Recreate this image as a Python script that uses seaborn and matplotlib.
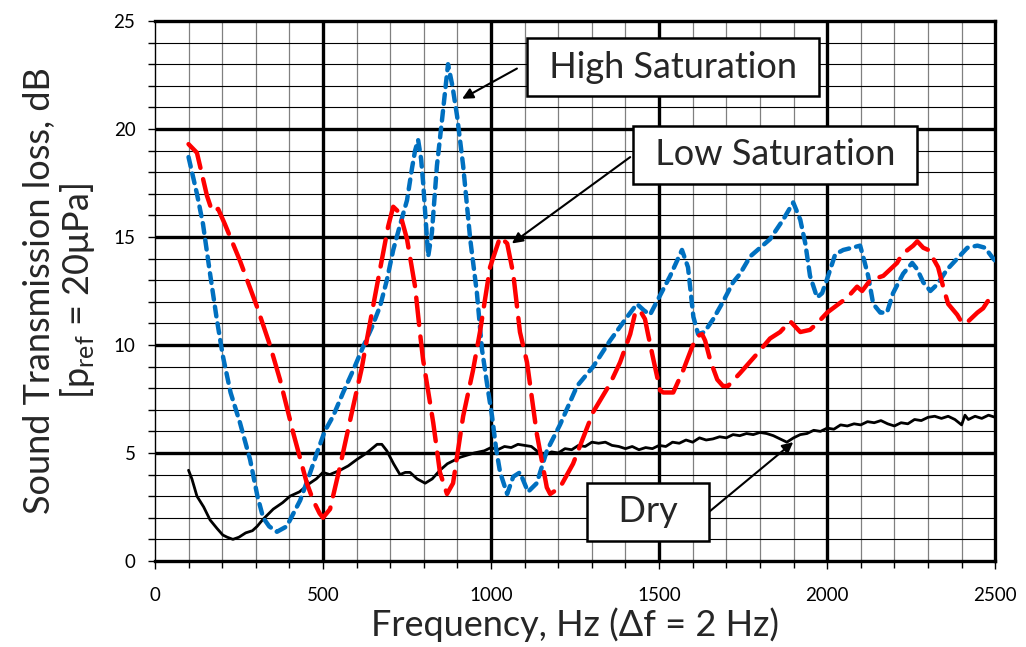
import matplotlib
matplotlib.use("Agg")
import matplotlib.pyplot as plt
import seaborn as sns
import pandas as pd

# ---- data ----
dry_x = [100,110,125,145,164,185,202,215,232,250,270,290,304,320,352,380,402,430,461,480,500,520,551,575,601,630,661,675,690,710,729,745,759,780,804,825,848,870,908,950,980,
         1000,1020,1040,1060,1080,1100,1120,1140,1160,1180,1200,1220,1240,1260,1280,1300,1320,1340,1360,1380,1400,1420,1440,1460,1480,1500,1520,1540,1560,1580,1600,1620,1640,1660,1680,1700,1720,1740,1760,1780,1800,1820,1840,1860,1880,1900,1920,1940,1960,1980,2000,2020,2040,2060,2080,2100,2120,2140,2160,2180,2200,2220,2240,2260,2280,2300,2320,2340,2360,2380,2400,2410,2420,2440,2460,2480,2500]
dry_y = [4.2,3.8,3.0,2.5,1.9,1.5,1.2,1.1,1.0,1.1,1.3,1.4,1.6,1.9,2.4,2.7,3.0,3.2,3.6,3.8,4.1,4.0,4.2,4.4,4.7,5.0,5.4,5.4,5.1,4.5,4.0,4.1,4.1,3.8,3.6,3.8,4.2,4.5,4.8,5.0,5.1,
         5.25,5.15,5.3,5.25,5.4,5.35,5.3,5.05,4.9,5.05,5.0,5.2,5.15,5.35,5.3,5.5,5.45,5.5,5.35,5.3,5.2,5.3,5.15,5.25,5.2,5.35,5.3,5.5,5.45,5.6,5.5,5.7,5.6,5.65,5.75,5.7,5.85,5.8,5.9,5.85,5.95,5.9,5.8,5.65,5.5,5.7,5.85,5.9,6.05,6.0,6.15,6.1,6.3,6.25,6.35,6.3,6.45,6.4,6.5,6.35,6.25,6.4,6.35,6.55,6.5,6.65,6.7,6.6,6.7,6.55,6.3,6.75,6.55,6.7,6.6,6.75,6.65]

high_x = [100,125,143,164,184,202,225,253,283,305,322,340,363,392,432,460,482,505,530,560,589,619,645,670,690,709,730,750,765,774,783,792,798,813,824,839,854,872,885,899,917,938,958,973,990,1003,1015,1027,1048,1066,1086,1110,1136,1166,1205,1256,1304,1354,1405,1434,1455,1473,1503,1533,1568,1586,1602,1616,1635,1661,1690,1720,1741,1771,1830,1869,1899,1920,1935,1949,1970,1985,2003,2024,2048,2074,2098,2107,2122,2137,2158,2178,2196,2226,2253,2268,2286,2307,2327,2357,2387,2417,2447,2470,2494,2500]
high_y = [18.7,17.0,15.6,13.3,11.2,9.5,7.8,6.4,4.7,3.0,2.0,1.6,1.35,1.6,2.8,4.0,5.0,6.0,6.7,7.8,8.8,9.9,10.8,11.8,13.0,14.4,15.6,16.7,18.2,19.0,19.5,18.6,17.5,14.1,15.2,18.3,20.4,23.0,22.0,20.6,18.3,14.9,12.4,9.8,8.0,6.7,5.2,4.1,3.1,3.9,4.1,3.2,3.6,5.1,6.3,8.1,9.0,10.2,11.3,11.9,11.6,11.4,12.3,13.2,14.4,13.6,11.3,10.5,10.6,11.2,12.0,12.9,13.3,14.1,14.9,15.8,16.6,15.8,14.7,13.2,12.2,12.4,13.2,14.2,14.4,14.5,14.6,14.1,13.2,11.9,11.5,11.5,12.4,13.3,13.8,13.5,12.9,12.5,12.8,13.5,14.0,14.5,14.6,14.5,14.0,13.9]

low_x = [100,125,155,170,188,208,253,303,342,372,412,452,471,490,500,521,551,589,615,630,660,694,709,729,750,774,789,798,828,848,869,887,917,946,967,997,1027,1048,1066,1086,1107,1136,1166,1176,1205,1244,1304,1354,1384,1414,1429,1443,1458,1467,1482,1503,1512,1542,1571,1598,1613,1628,1637,1652,1673,1690,1705,1741,1792,1830,1860,1890,1920,1949,1970,2000,2060,2089,2104,2128,2167,2208,2223,2256,2268,2286,2301,2312,2330,2345,2360,2387,2402,2420,2447,2464,2485,2500]
low_y = [19.3,18.9,16.9,16.2,16.3,15.6,13.9,11.8,10.0,8.4,5.9,3.6,2.8,2.2,2.0,2.4,4.4,7.1,8.9,10.2,12.7,15.5,16.4,16.1,14.9,12.7,10.5,9.3,6.4,4.1,3.1,3.6,6.7,8.8,10.6,13.6,15.0,14.7,13.3,10.6,9.2,5.9,3.4,3.1,3.4,4.5,6.9,8.2,9.2,10.5,11.5,11.6,11.2,10.5,9.4,7.9,7.8,7.8,8.8,9.9,10.4,10.5,10.2,9.3,8.4,8.1,8.1,8.7,9.6,10.3,10.6,11.1,10.6,10.7,11.0,11.5,12.2,12.7,12.5,13.0,13.2,13.8,14.2,14.6,14.8,14.5,14.4,14.1,13.6,12.7,11.9,11.4,11.0,11.1,11.5,11.7,12.2,12.4]

x_ticks = [0, 500, 1000, 1500, 2000, 2500]
y_ticks = [0, 5, 10, 15, 20, 25]
x_label = "Frequency, Hz (\u0394f = 2 Hz)"
y_label = "Sound Transmission loss, dB\n[p$_{\\mathrm{ref}}$ = 20\u03bcPa]"

# ---- style ----
sns.set_theme(style="white")
plt.rcParams['font.family'] = ['Lato', 'DejaVu Sans']
plt.rcParams['mathtext.fontset'] = 'custom'
plt.rcParams['mathtext.rm'] = 'Lato'
plt.rcParams['mathtext.it'] = 'Lato:italic'

fig = plt.figure(figsize=(10.26, 6.47), dpi=100)
ax = fig.add_axes([0.151, 0.133, 0.819, 0.8345])

df_dry = pd.DataFrame({"f": dry_x, "tl": dry_y})
df_high = pd.DataFrame({"f": high_x, "tl": high_y})
df_low = pd.DataFrame({"f": low_x, "tl": low_y})

sns.lineplot(data=df_dry, x="f", y="tl", color="black", linewidth=2.0, ax=ax, zorder=5)
sns.lineplot(data=df_high, x="f", y="tl", color="#0070C0", linewidth=3.2, ax=ax, zorder=6)
sns.lineplot(data=df_low, x="f", y="tl", color="#FF0000", linewidth=3.2, ax=ax, zorder=7)
lines = ax.get_lines()
lines[1].set_dashes((2.2, 1.6))
lines[1].set_dash_capstyle('round')
lines[2].set_dashes((6.2, 2.6))
lines[2].set_dash_capstyle('round')

ax.set_xlim(0, 2500)
ax.set_ylim(0, 25)

# grid
for xv in range(100, 2500, 100):
    if xv % 500 == 0:
        ax.axvline(xv, color="black", lw=2.4, zorder=1)
    else:
        ax.axvline(xv, color="#808080", lw=0.9, zorder=0.5)
for yv in range(1, 25):
    if yv % 5 == 0:
        ax.axhline(yv, color="black", lw=2.4, zorder=1)
    else:
        ax.axhline(yv, color="black", lw=0.8, zorder=0.5)

for s in ["top", "right", "bottom"]:
    ax.spines[s].set_linewidth(2.4)
    ax.spines[s].set_color("black")
ax.spines["left"].set_linewidth(1.0)
ax.spines["left"].set_color("black")

ax.set_xticks(x_ticks)
ax.set_yticks(y_ticks)
ax.set_xticks(range(0, 2501, 100), minor=True)
ax.set_yticks(range(0, 26, 1), minor=True)
ax.tick_params(axis="both", which="both", direction="out", color="black",
               width=1.0, length=5, labelsize=13.5, colors="black")
ax.tick_params(axis="x", which="both", bottom=True, top=False, pad=13)
ax.tick_params(axis="y", which="both", left=True, right=False, pad=9)
ax.tick_params(axis="x", which="major", length=6)

ax.set_xlabel(x_label, fontsize=26, labelpad=2)
ax.set_ylabel(y_label, fontsize=26, labelpad=12, linespacing=1.05)

# annotations: arrows then boxed labels
arrow = dict(arrowstyle="-|>", color="black", lw=1.5, mutation_scale=16, shrinkA=0, shrinkB=0)
ax.annotate("", xy=(914, 21.4), xytext=(1077, 22.8), arrowprops=arrow, zorder=9)
ax.annotate("", xy=(1062, 14.7), xytext=(1414, 18.7), arrowprops=arrow, zorder=9)
ax.annotate("", xy=(1899, 5.5), xytext=(1643, 2.2), arrowprops=arrow, zorder=9)

bbox = dict(boxstyle="square,pad=0.35", fc="white", ec="black", lw=1.8)
ax.text(1542, 22.87, " High Saturation ", fontsize=26, ha="center", va="center", bbox=bbox, zorder=10)
ax.text(1845, 18.8, " Low Saturation ", fontsize=26, ha="center", va="center", bbox=bbox, zorder=10)
ax.text(1467, 2.27, "  Dry  ", fontsize=26, ha="center", va="center", bbox=bbox, zorder=10)

fig.savefig("out.png", dpi=100, facecolor="white")
